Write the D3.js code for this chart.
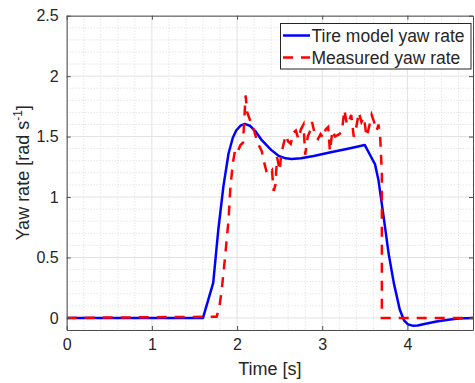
<!DOCTYPE html>
<html><head><meta charset="utf-8">
<script src="https://cdn.jsdelivr.net/npm/d3@7"></script>
<style>body{margin:0;background:#fff}svg{display:block}text{font-family:"Liberation Sans",Arial,sans-serif;fill:#262626}</style>
</head><body>
<script>
const seriesNames = ["Tire model yaw rate", "Measured yaw rate"];
const xTicks = [0, 1, 2, 3, 4];
const yTicks = [0, 0.5, 1, 1.5, 2, 2.5];
const xLabel = "Time [s]";
const blueT = [0, 1.6, 1.72, 1.78, 1.84, 1.9, 1.95, 1.99, 2.04, 2.09, 2.15, 2.22, 2.29, 2.4, 2.49, 2.57, 2.64, 2.75, 2.9, 3.1, 3.3, 3.5, 3.56, 3.62, 3.66, 3.72, 3.78, 3.84, 3.91, 3.96, 4.01, 4.06, 4.12, 4.2, 4.34, 4.48, 4.6, 4.77];
const blueY = [0, 0, 0.29, 0.73, 1.09, 1.36, 1.49, 1.55, 1.59, 1.605, 1.59, 1.54, 1.47, 1.39, 1.34, 1.32, 1.315, 1.32, 1.34, 1.37, 1.40, 1.43, 1.35, 1.27, 1.14, 0.84, 0.53, 0.29, 0.07, -0.02, -0.055, -0.064, -0.062, -0.05, -0.03, -0.015, -0.004, 0];
const redT = [0, 1.76, 1.79, 1.82, 1.86, 1.9, 1.92, 1.95, 1.98, 2.01, 2.04, 2.07, 2.1, 2.12, 2.15, 2.17, 2.2, 2.24, 2.29, 2.32, 2.35, 2.38, 2.41, 2.43, 2.45, 2.47, 2.5, 2.52, 2.55, 2.57, 2.6, 2.63, 2.66, 2.69, 2.72, 2.75, 2.78, 2.8, 2.83, 2.86, 2.88, 2.92, 2.95, 2.98, 3.01, 3.04, 3.07, 3.09, 3.12, 3.15, 3.2, 3.23, 3.26, 3.29, 3.31, 3.34, 3.37, 3.4, 3.43, 3.46, 3.49, 3.52, 3.55, 3.58, 3.61, 3.64, 3.66, 3.68, 3.7, 3.7, 4.77];
const redY = [0, 0.01, 0.08, 0.23, 0.51, 0.81, 1.06, 1.28, 1.4, 1.38, 1.43, 1.45, 1.84, 1.7, 1.64, 1.6, 1.55, 1.45, 1.38, 1.28, 1.2, 1.19, 1.22, 1.05, 1.1, 1.33, 1.22, 1.36, 1.45, 1.51, 1.46, 1.44, 1.53, 1.55, 1.48, 1.56, 1.6, 1.35, 1.5, 1.55, 1.62, 1.5, 1.48, 1.52, 1.49, 1.56, 1.58, 1.38, 1.55, 1.5, 1.52, 1.54, 1.72, 1.6, 1.62, 1.68, 1.5, 1.58, 1.7, 1.62, 1.66, 1.5, 1.58, 1.68, 1.62, 1.55, 1.6, 1.5, 1.2, 0, 0];

const W = 475, H = 383;
const m = {l: 66.7, r: 473, t: 15.7, b: 330};
const x = d3.scaleLinear().domain([0, 4.77]).range([m.l, m.r]);
const y = d3.scaleLinear().domain([-0.1, 2.5]).range([m.b, m.t]);

const svg = d3.select("body").append("svg").attr("width", W).attr("height", H);
const g = svg.append("g");

// minor grid
const xMinor = d3.range(0, 4.77, 0.2).filter(v => Math.abs(v - Math.round(v)) > 1e-6);
const yMinor = d3.range(-0.1, 2.5, 0.1).map(v => Math.round(v * 10) / 10).filter(v => Math.abs(v * 2 - Math.round(v * 2)) > 1e-6);
g.selectAll(".xm").data(xMinor).enter().append("line")
  .attr("x1", d => x(d)).attr("x2", d => x(d)).attr("y1", m.t).attr("y2", m.b)
  .attr("stroke", "#d9d9d9").attr("stroke-width", 1).attr("stroke-dasharray", "1,2");
g.selectAll(".ym").data(yMinor).enter().append("line")
  .attr("y1", d => y(d)).attr("y2", d => y(d)).attr("x1", m.l).attr("x2", m.r)
  .attr("stroke", "#d9d9d9").attr("stroke-width", 1).attr("stroke-dasharray", "1,2");
// major grid
g.selectAll(".xg").data(xTicks).enter().append("line")
  .attr("x1", d => x(d)).attr("x2", d => x(d)).attr("y1", m.t).attr("y2", m.b)
  .attr("stroke", "#e2e2e2").attr("stroke-width", 1);
g.selectAll(".yg").data(yTicks).enter().append("line")
  .attr("y1", d => y(d)).attr("y2", d => y(d)).attr("x1", m.l).attr("x2", m.r)
  .attr("stroke", "#e2e2e2").attr("stroke-width", 1);

// lines
const lineGen = d3.line().x(d => x(d[0])).y(d => y(d[1]));
svg.append("clipPath").attr("id", "c").append("rect")
  .attr("x", m.l).attr("y", m.t).attr("width", m.r - m.l).attr("height", m.b - m.t);
const blue = blueT.map((t, i) => [t, blueY[i]]);
const red = redT.map((t, i) => [t, redY[i]]);
g.append("path").datum(blue).attr("d", lineGen).attr("fill", "none")
  .attr("stroke", "#0000ff").attr("stroke-width", 2.5).attr("stroke-linejoin", "round").attr("clip-path", "url(#c)");
g.append("path").datum(red).attr("d", lineGen).attr("fill", "none")
  .attr("stroke", "#ff0000").attr("stroke-width", 2.5).attr("stroke-dasharray", "10,8").attr("clip-path", "url(#c)");

// axes
const axCol = "#4d4d4d";
const xb = svg.append("g").attr("transform", `translate(0,${m.b})`)
  .call(d3.axisBottom(x).tickValues(xTicks).tickSizeInner(-4).tickSizeOuter(0).tickPadding(9).tickFormat(d3.format("d")));
const xt = svg.append("g").attr("transform", `translate(0,${m.t})`)
  .call(d3.axisTop(x).tickValues(xTicks).tickSizeInner(-4).tickSizeOuter(0).tickFormat(""));
const yl = svg.append("g").attr("transform", `translate(${m.l},0)`)
  .call(d3.axisLeft(y).tickValues(yTicks).tickSizeInner(-4).tickSizeOuter(0).tickPadding(8).tickFormat(d => d3.format("")(d)));
const yr = svg.append("g").attr("transform", `translate(${m.r},0)`)
  .call(d3.axisRight(y).tickValues(yTicks).tickSizeInner(-4).tickSizeOuter(0).tickFormat(""));
[xb, xt, yl, yr].forEach(a => {
  a.select(".domain").attr("stroke", axCol);
  a.selectAll(".tick line").attr("stroke", axCol);
  a.selectAll("text").style("font-size", "16px").attr("fill", "#262626").style("font-family", '"Liberation Sans",Arial,sans-serif');
});

// axis labels
svg.append("text").attr("x", (m.l + m.r) / 2).attr("y", 375).attr("text-anchor", "middle")
  .style("font-size", "18px").text(xLabel);
const yLab = svg.append("text").attr("transform", `translate(29,${(m.t + m.b) / 2}) rotate(-90)`)
  .attr("text-anchor", "middle").style("font-size", "18px");
yLab.append("tspan").text("Yaw rate [rad s");
yLab.append("tspan").attr("dy", -7).style("font-size", "12px").text("-1");
yLab.append("tspan").attr("dy", 7).text("]");

// legend
const lg = svg.append("g");
lg.append("rect").attr("x", 280.5).attr("y", 23.5).attr("width", 190.5).attr("height", 45.5)
  .attr("fill", "#fff").attr("stroke", "#262626").attr("stroke-width", 1);
const items = [{name: seriesNames[0], c: "#0000ff", dash: null}, {name: seriesNames[1], c: "#ff0000", dash: "10,8"}];
items.forEach((it, i) => {
  const cy = 35.5 + i * 22;
  const l = lg.append("line").attr("x1", 283).attr("x2", 310).attr("y1", cy).attr("y2", cy)
    .attr("stroke", it.c).attr("stroke-width", 2.5);
  if (it.dash) l.attr("stroke-dasharray", it.dash);
  lg.append("text").attr("x", 311.5).attr("y", cy + 6).style("font-size", "17.5px").text(it.name);
});
</script>
</body></html>
